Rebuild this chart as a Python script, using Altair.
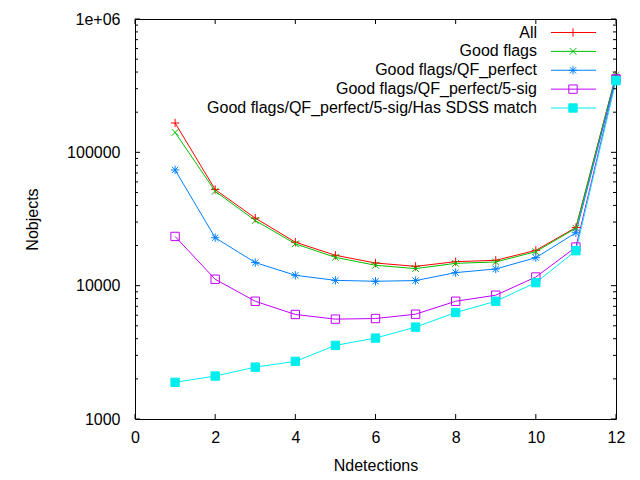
import altair as alt
import pandas as pd

ndet = [1, 2, 3, 4, 5, 6, 7, 8, 9, 10, 11, 12]
labels = [
    "All",
    "Good flags",
    "Good flags/QF_perfect",
    "Good flags/QF_perfect/5-sig",
    "Good flags/QF_perfect/5-sig/Has SDSS match",
]
all_vals = [166000, 52600, 32100, 21200, 16900, 14790, 13960, 15140, 15490, 18400, 27300, 380000]
good_vals = [141000, 51100, 30800, 20600, 16300, 14220, 13430, 14700, 15060, 17990, 27000, 378000]
qf_vals = [73800, 22900, 14900, 11970, 10960, 10790, 10920, 12530, 13340, 16220, 24950, 365000]
sig_vals = [23400, 11170, 7640, 6080, 5610, 5670, 6110, 7640, 8480, 11610, 19480, 355000]
sdss_vals = [1884, 2100, 2450, 2705, 3565, 4045, 4890, 6290, 7640, 10540, 18290, 345000]

x_ticks = [0, 2, 4, 6, 8, 10, 12]
y_major = [1000, 10000, 100000, 1000000]
y_minor = [m * d for d in (1000, 10000, 100000) for m in range(2, 10)]

colors = ["#ff0000", "#00c000", "#0080ff", "#c000ff", "#00eeee"]
fills = ["transparent", "transparent", "transparent", "transparent", "#00eeee"]
shapes = [
    "M-1,0H1M0,-1V1",
    "M-0.8,-0.8L0.8,0.8M-0.8,0.8L0.8,-0.8",
    "M-1,0H1M0,-1V1M-0.75,-0.75L0.75,0.75M-0.75,0.75L0.75,-0.75",
    "square",
    "square",
]
sizes = [70, 70, 70, 38, 50]

series_vals = [all_vals, good_vals, qf_vals, sig_vals, sdss_vals]
rows = []
for lab, vals in zip(labels, series_vals):
    for xv, yv in zip(ndet, vals):
        rows.append({"Ndetections": xv, "Nobjects": yv, "series": lab})
df = pd.DataFrame(rows)
leg = pd.DataFrame({"series": labels})
xt = pd.DataFrame({"t": x_ticks})
ymaj = pd.DataFrame({"v": y_major})
ymin = pd.DataFrame({"v": y_minor})

FONT = "Liberation Sans"
W, H = 481, 400

xs = alt.Scale(domain=[0, 12], nice=False)
ys = alt.Scale(type="log", domain=[1000, 1000000], nice=False)
stroke_enc = alt.Stroke("series:N", scale=alt.Scale(domain=labels, range=colors), legend=None)
fill_enc = alt.Fill("series:N", scale=alt.Scale(domain=labels, range=fills), legend=None)
shape_enc = alt.Shape("series:N", scale=alt.Scale(domain=labels, range=shapes), legend=None)
size_enc = alt.Size("series:N", scale=alt.Scale(domain=labels, range=sizes), legend=None)

X = alt.X("Ndetections:Q", scale=xs, title="Ndetections",
          axis=alt.Axis(values=x_ticks, format="d", labelPadding=10, titlePadding=12,
                        labelFlush=False))
Y = alt.Y("Nobjects:Q", scale=ys, title="Nobjects",
          axis=alt.Axis(values=y_major, labelPadding=15, titlePadding=26, labelFlush=False,
                        labelExpr="datum.value >= 1000000 ? '1e+06' : format(datum.value, 'd')"))

lines = alt.Chart(df).mark_line(strokeWidth=1).encode(x=X, y=Y, stroke=stroke_enc, detail="series:N")
points = alt.Chart(df).mark_point(strokeWidth=1, opacity=1).encode(
    x=X, y=Y, stroke=stroke_enc, fill=fill_enc, shape=shape_enc, size=size_enc)

tick_bottom = alt.Chart(xt).mark_rule(color="black", strokeWidth=1).encode(
    x=alt.X("t:Q", scale=xs), y=alt.value(H), y2=alt.value(H - 5))
tick_top = alt.Chart(xt).mark_rule(color="black", strokeWidth=1).encode(
    x=alt.X("t:Q", scale=xs), y=alt.value(0), y2=alt.value(5))
tick_lmaj = alt.Chart(ymaj).mark_rule(color="black", strokeWidth=1).encode(
    y=alt.Y("v:Q", scale=ys), x=alt.value(0), x2=alt.value(5))
tick_rmaj = alt.Chart(ymaj).mark_rule(color="black", strokeWidth=1).encode(
    y=alt.Y("v:Q", scale=ys), x=alt.value(W), x2=alt.value(W - 5))
tick_lmin = alt.Chart(ymin).mark_rule(color="black", strokeWidth=1).encode(
    y=alt.Y("v:Q", scale=ys), x=alt.value(0), x2=alt.value(3))
tick_rmin = alt.Chart(ymin).mark_rule(color="black", strokeWidth=1).encode(
    y=alt.Y("v:Q", scale=ys), x=alt.value(W), x2=alt.value(W - 3))

main = alt.layer(lines, points, tick_bottom, tick_top, tick_lmaj, tick_rmaj, tick_lmin, tick_rmin)

LY = alt.Y("series:N", sort=labels, axis=None,
           scale=alt.Scale(type="point", domain=labels, range=[13.5, 89], padding=0))
leg_text = alt.Chart(leg).mark_text(align="right", baseline="middle", font=FONT, fontSize=16,
                                    color="black").encode(x=alt.value(402), y=LY, text="series:N")
leg_rule = alt.Chart(leg).mark_rule(strokeWidth=1).encode(
    x=alt.value(416), x2=alt.value(461), y=LY, stroke=stroke_enc)
leg_pts = alt.Chart(leg).mark_point(strokeWidth=1, opacity=1).encode(
    x=alt.value(438), y=LY, stroke=stroke_enc, fill=fill_enc, shape=shape_enc, size=size_enc)
legend = alt.layer(leg_text, leg_rule, leg_pts)

chart = alt.layer(main, legend).resolve_scale(y="independent").properties(
    width=W, height=H,
    autosize=alt.AutoSizeParams(type="none"),
    padding={"left": 127, "top": 11, "right": 16, "bottom": 57},
    background="white",
).configure_view(stroke="black", strokeWidth=1).configure_axis(
    labelFont=FONT, labelFontSize=16, labelColor="black",
    titleFont=FONT, titleFontSize=16, titleFontWeight="normal", titleColor="black",
    ticks=False, tickSize=0, domain=False, grid=False,
)

chart.save("out.html", embed_options={"renderer": "svg", "actions": False})
